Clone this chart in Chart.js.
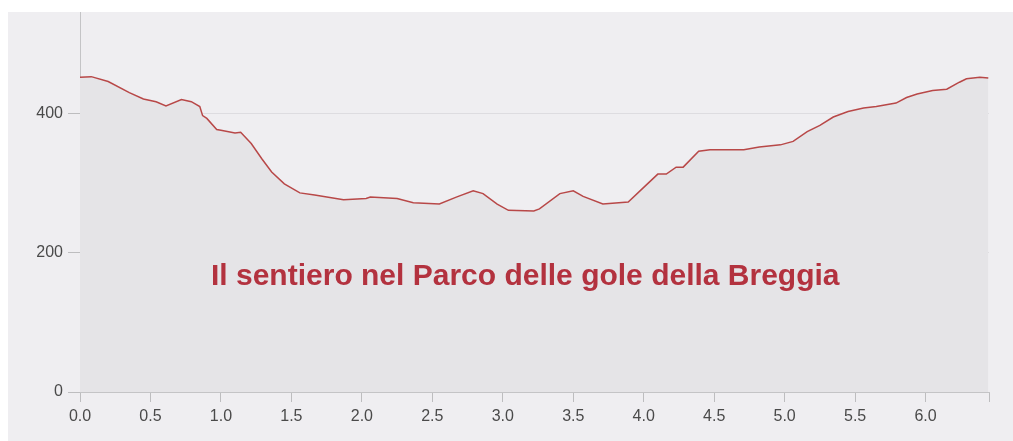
<!DOCTYPE html>
<html>
<head>
<meta charset="utf-8">
<script src="https://cdn.jsdelivr.net/npm/chart.js@4/dist/chart.umd.min.js"></script>
<style>
  body { margin: 0; background: #fff; }
  #box { position: absolute; left: 8px; top: 12px; width: 1005px; height: 429px; background: #efeef1; overflow: hidden; }
  #profile { position: absolute; left: 0; top: -14px; }
  #label {
    position: absolute; left: 211px; top: 258px; line-height: 30px;
    font: bold 30px "Liberation Sans", Arial, sans-serif; color: #b3323f;
    white-space: nowrap;
  }
</style>
</head>
<body>
<div id="box"><canvas id="profile" width="1005" height="443"></canvas></div>
<div id="label">Il sentiero nel Parco delle gole della Breggia</div>
<script>
// distanza (km) e quota (m)
var distances = [0.00, 0.08, 0.20, 0.35, 0.45, 0.54, 0.61, 0.72, 0.79, 0.85, 0.87, 0.90, 0.97, 1.00,
  1.10, 1.14, 1.215, 1.29, 1.36, 1.45, 1.56, 1.665, 1.87, 2.03, 2.06, 2.25, 2.365, 2.55, 2.67, 2.79,
  2.86, 2.96, 3.04, 3.22, 3.26, 3.405, 3.50, 3.57, 3.71, 3.89, 4.00, 4.10, 4.16, 4.23, 4.28, 4.39,
  4.47, 4.71, 4.82, 4.97, 5.06, 5.16, 5.25, 5.345, 5.45, 5.56, 5.65, 5.79, 5.865, 5.94, 6.05, 6.15,
  6.24, 6.29, 6.385, 6.445];
var elevations = [452, 453, 446, 430, 421, 417, 411, 420, 417, 410, 397, 393, 377, 376,
  372, 373, 357, 335, 316, 299, 286, 283, 276, 278, 280, 278, 272, 270, 280, 289,
  285, 270, 261, 260, 263, 285, 289, 281, 270, 273, 294, 313, 313, 323, 323, 346,
  348, 348, 352, 355, 360, 374, 383, 395, 403, 408, 410, 415, 423, 428, 433, 435,
  445, 450, 452, 451];
var yTicks = [0, 200, 400];

var points = distances.map(function(d, i){ return {x: d, y: elevations[i]}; });

Chart.defaults.font.family = '"Liberation Sans", Arial, sans-serif';

new Chart(document.getElementById('profile'), {
  type: 'line',
  data: {
    datasets: [{
      data: points,
      borderColor: '#b84848',
      borderWidth: 1.5,
      backgroundColor: '#e5e4e7',
      fill: 'origin',
      pointRadius: 0,
      tension: 0
    }]
  },
  options: {
    responsive: false,
    animation: false,
    layout: { padding: { left: 0, top: 0, right: 24, bottom: 0 } },
    plugins: { legend: { display: false }, tooltip: { enabled: false } },
    scales: {
      x: {
        type: 'linear',
        min: 0,
        max: 6.45,
        afterFit: function(s){ s.height = 49; },
        border: { color: '#c4c4c6' },
        grid: { drawOnChartArea: false, tickLength: 10, tickColor: '#bdbdbf' },
        ticks: {
          stepSize: 0.5,
          padding: 5,
          color: '#4a4a4a',
          font: { size: 16 },
          maxRotation: 0,
          callback: function(v){
            var r = Math.abs(v * 2 - Math.round(v * 2));
            return r < 1e-6 ? Number(v).toFixed(1) : '';
          }
        }
      },
      y: {
        min: 0,
        max: 545,
        afterFit: function(s){ s.width = 72; },
        afterBuildTicks: function(s){
          s.ticks = yTicks.map(function(v){ return {value: v}; });
        },
        border: { color: '#c4c4c6' },
        grid: { color: '#dddce0', tickLength: 12, tickColor: '#bdbdbf' },
        ticks: { padding: 5, color: '#4a4a4a', font: { size: 16 } }
      }
    }
  }
});
</script>
</body>
</html>
